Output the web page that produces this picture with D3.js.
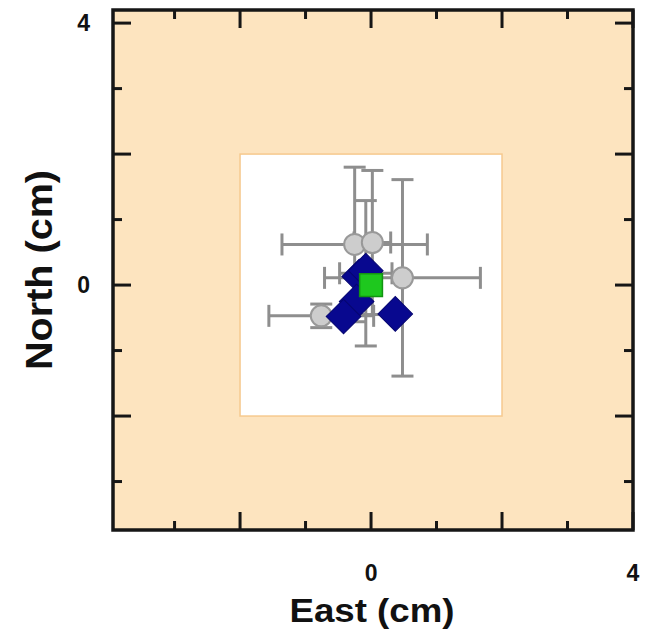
<!DOCTYPE html>
<html>
<head>
<meta charset="utf-8">
<script src="https://cdn.jsdelivr.net/npm/d3@7"></script>
<style>
  body { margin: 0; background: #fff; }
  svg { display: block; }
  text { font-family: "Liberation Sans", Arial, sans-serif; font-weight: bold; fill: #111; }
</style>
</head>
<body>
<div id="chart"></div>
<script>
// Gray circles with error bars (cm)
const circleX    = [-0.25, 0.02, -0.08, 0.48, -0.76];
const circleY    = [0.62, 0.65, 0.18, 0.11, -0.47];
const circleXErr = [1.11, 0.28, 0.40, 1.19, 0.80];
const circleYErr = [1.18, 1.10, 1.11, 1.50, 0.18];

// Blue diamonds (cm)
const diamondX = [-0.18, -0.08, -0.22, -0.42, 0.37];
const diamondY = [0.13, 0.22, -0.25, -0.48, -0.44];

// Green reference square
const refX = [0];
const refY = [0];

// Ticks
const majorTicks = [-4, -2, 0, 2, 4];
const minorTicks = [-3, -1, 1, 3];
const xTickLabels = [0, 4];
const yTickLabels = [0, 4];

const width = 646, height = 635;

const svg = d3.select("#chart").append("svg")
    .attr("width", width)
    .attr("height", height);

const x = d3.scaleLinear().domain([-3.94, 4]).range([113, 633]);
const y = d3.scaleLinear().domain([-3.74, 4.2]).range([530, 10]);

const [x0, x1] = x.range();
const [y1, y0] = y.range();

// Background
svg.append("rect")
    .attr("x", x0).attr("y", y0)
    .attr("width", x1 - x0).attr("height", y1 - y0)
    .style("fill", "#fde4bf");

// Inner white square [-2, 2]
svg.append("rect")
    .attr("x", x(-2)).attr("y", y(2))
    .attr("width", x(2) - x(-2)).attr("height", y(-2) - y(2))
    .style("fill", "#fff")
    .style("stroke", "#f6c98e")
    .style("stroke-width", 1.5);

// Error bars
const capHalf = 11;
const bars = svg.append("g")
    .style("stroke", "#8e8e8e")
    .style("stroke-width", 3)
    .style("fill", "none");

circleX.forEach((cx, i) => {
    const cy = circleY[i];
    const xl = x(cx - circleXErr[i]), xr = x(cx + circleXErr[i]);
    const yt = y(cy + circleYErr[i]), yb = y(cy - circleYErr[i]);
    const px = x(cx), py = y(cy);
    bars.append("line").attr("x1", xl).attr("x2", xr).attr("y1", py).attr("y2", py);
    bars.append("line").attr("x1", xl).attr("x2", xl).attr("y1", py - capHalf).attr("y2", py + capHalf);
    bars.append("line").attr("x1", xr).attr("x2", xr).attr("y1", py - capHalf).attr("y2", py + capHalf);
    bars.append("line").attr("x1", px).attr("x2", px).attr("y1", yt).attr("y2", yb);
    bars.append("line").attr("x1", px - capHalf).attr("x2", px + capHalf).attr("y1", yt).attr("y2", yt);
    bars.append("line").attr("x1", px - capHalf).attr("x2", px + capHalf).attr("y1", yb).attr("y2", yb);
});

// Circles
svg.append("g").selectAll("circle")
    .data(circleX.map((d, i) => [d, circleY[i]]))
    .enter().append("circle")
    .attr("cx", d => x(d[0]))
    .attr("cy", d => y(d[1]))
    .attr("r", 10.5)
    .style("fill", "#cdcdcd")
    .style("stroke", "#999")
    .style("stroke-width", 2);

// Diamonds
const diamond = d3.symbol().type(d3.symbolSquare).size(600);
svg.append("g").selectAll("path")
    .data(diamondX.map((d, i) => [d, diamondY[i]]))
    .enter().append("path")
    .attr("d", diamond)
    .attr("transform", d => `translate(${x(d[0])},${y(d[1])}) rotate(45)`)
    .style("fill", "#08088f")
    .style("stroke", "#050570")
    .style("stroke-width", 1);

// Green square
const square = d3.symbol().type(d3.symbolSquare).size(520);
svg.append("g").selectAll("path")
    .data(refX.map((d, i) => [d, refY[i]]))
    .enter().append("path")
    .attr("d", square)
    .attr("transform", d => `translate(${x(d[0])},${y(d[1])})`)
    .style("fill", "#1ec81e")
    .style("stroke", "#129412")
    .style("stroke-width", 1.5);

// Ticks (inward on all four sides)
const ticks = svg.append("g").style("stroke", "#161616").style("stroke-width", 3);
const majorLen = 18, minorLen = 9;
function drawTicks(values, len) {
    values.forEach(v => {
        if (v >= x.domain()[0] && v <= x.domain()[1]) {
            ticks.append("line").attr("x1", x(v)).attr("x2", x(v)).attr("y1", y1).attr("y2", y1 - len);
            ticks.append("line").attr("x1", x(v)).attr("x2", x(v)).attr("y1", y0).attr("y2", y0 + len);
        }
        if (v >= y.domain()[0] && v <= y.domain()[1]) {
            ticks.append("line").attr("x1", x0).attr("x2", x0 + len).attr("y1", y(v)).attr("y2", y(v));
            ticks.append("line").attr("x1", x1).attr("x2", x1 - len).attr("y1", y(v)).attr("y2", y(v));
        }
    });
}
drawTicks(majorTicks, majorLen);
drawTicks(minorTicks, minorLen);

// Frame
svg.append("rect")
    .attr("x", x0).attr("y", y0)
    .attr("width", x1 - x0).attr("height", y1 - y0)
    .style("fill", "none")
    .style("stroke", "#161616")
    .style("stroke-width", 3.5);

// Tick labels
svg.append("g").selectAll("text")
    .data(xTickLabels)
    .enter().append("text")
    .attr("x", d => x(d))
    .attr("y", 581)
    .attr("text-anchor", "middle")
    .style("font-size", "23px")
    .text(d => d);

svg.append("g").selectAll("text")
    .data(yTickLabels)
    .enter().append("text")
    .attr("x", 90)
    .attr("y", d => y(d) + 8)
    .attr("text-anchor", "end")
    .style("font-size", "23px")
    .text(d => d);

// Axis titles
svg.append("text")
    .attr("x", 372)
    .attr("y", 622)
    .attr("text-anchor", "middle")
    .attr("textLength", 165)
    .attr("lengthAdjust", "spacingAndGlyphs")
    .style("font-size", "34px")
    .text("East (cm)");

svg.append("text")
    .attr("transform", `translate(52,270) rotate(-90)`)
    .attr("text-anchor", "middle")
    .attr("textLength", 200)
    .attr("lengthAdjust", "spacingAndGlyphs")
    .style("font-size", "36px")
    .text("North (cm)");
</script>
</body>
</html>
